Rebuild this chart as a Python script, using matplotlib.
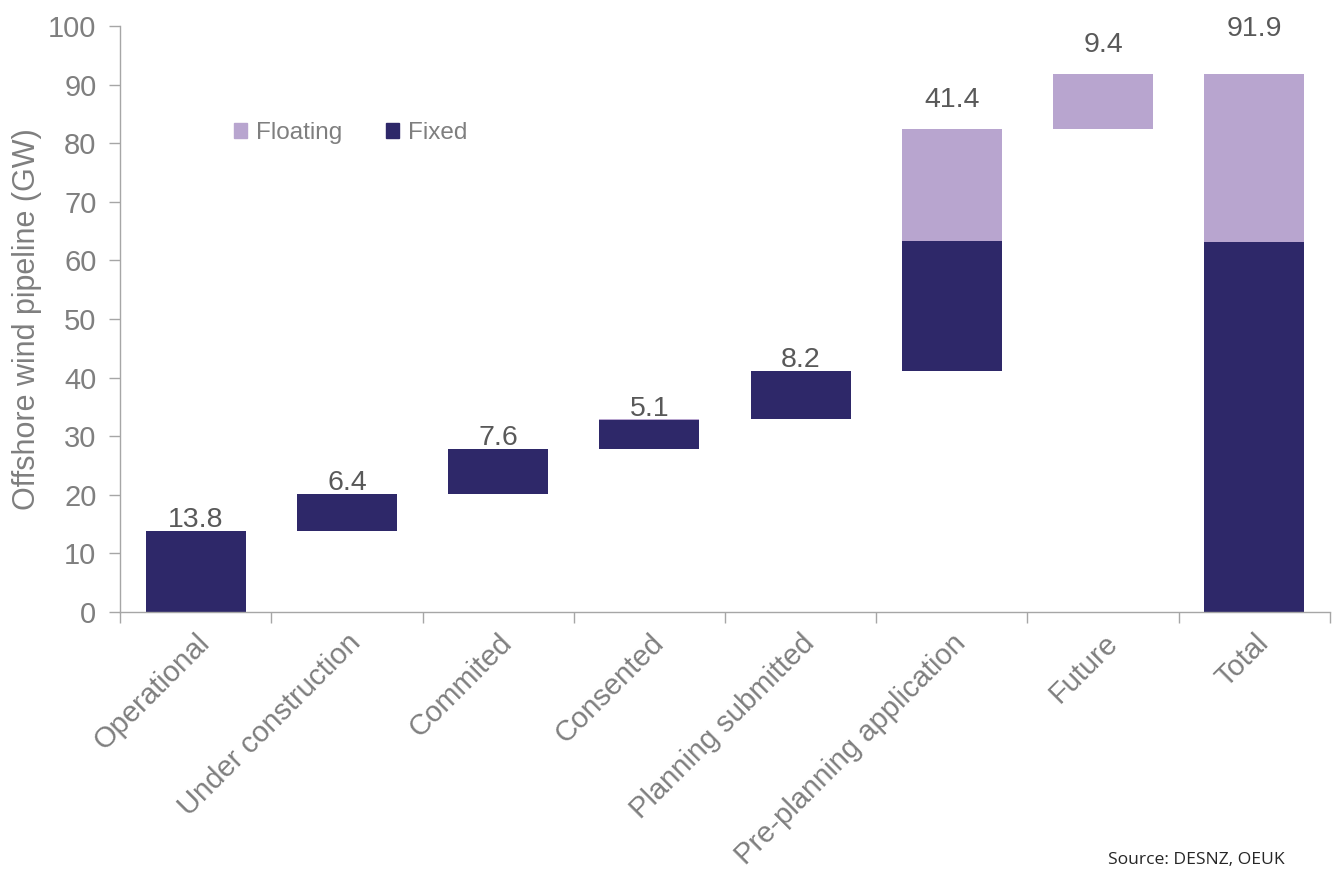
import numpy as np
import matplotlib
matplotlib.use("Agg")
from matplotlib import pyplot as plt
from matplotlib.patches import Patch

# pipeline stages, GW
stages = ['Operational', 'Under construction', 'Commited', 'Consented',
          'Planning submitted', 'Pre-planning application', 'Future', 'Total']
fixed = [13.8, 6.4, 7.6, 5.0, 8.2, 22.2, 0.0]
floating = [0.0, 0.0, 0.0, 0.1, 0.0, 19.2, 9.4]
labels = ['13.8', '6.4', '7.6', '5.1', '8.2', '41.4', '9.4', '91.9']

c_fixed = '#2E2869'
c_float = '#B8A5CF'
grey = '#7F7F7F'

plt.rcParams['font.family'] = ['Liberation Sans', 'DejaVu Sans']

fig = plt.figure(figsize=(13.38, 8.71), dpi=100)
ax = fig.add_axes([0.0897, 0.2974, 0.9043, 0.6727])

fixed = np.array(fixed)
floating = np.array(floating)
steps = fixed + floating
bases = np.concatenate([[0.0], np.cumsum(steps)[:-1]])

x = np.arange(len(stages))
w = 0.66
fx = np.append(fixed, fixed.sum())
fl = np.append(floating, floating.sum())
fb = np.append(bases, 0.0)

ax.bar(x, fx, w, bottom=fb, color=c_fixed, zorder=2)
ax.bar(x, fl, w, bottom=fb + fx, color=c_float, zorder=2)

# value labels; stacks with a floating part sit a little higher, the total higher still
tops = fb + fx + fl
for i, (xi, t, f, lab) in enumerate(zip(x, tops, fl, labels)):
    if i == len(stages) - 1:
        gap = 5.4
    elif f > 1:
        gap = 2.6
    else:
        gap = -0.4
    ax.text(xi, t + gap, lab, ha='center', va='bottom', fontsize=20.5, color='#595959')

ax.set_xlim(-0.5, len(stages) - 0.5)
ax.set_ylim(0, 100)
ax.set_yticks(np.arange(0, 101, 10))
ax.set_xticks(x)
ax.set_xticklabels(stages, rotation=45, ha='right', rotation_mode='anchor',
                   fontsize=21, color=grey)
ax.set_xticks(np.arange(-0.5, len(stages), 1.0), minor=True)
ax.tick_params(axis='x', which='major', length=0, pad=12)
ax.tick_params(axis='x', which='minor', length=8, color='#A6A6A6', width=1)
ax.tick_params(axis='y', length=8, color='#A6A6A6', width=1, labelsize=21,
               labelcolor=grey, pad=9)

for s in ['top', 'right']:
    ax.spines[s].set_visible(False)
for s in ['left', 'bottom']:
    ax.spines[s].set_color('#A6A6A6')
    ax.spines[s].set_linewidth(1)

ax.set_ylabel('Offshore wind pipeline (GW)', fontsize=22, color=grey, labelpad=4)

handles = [Patch(color=c_float, label='Floating'), Patch(color=c_fixed, label='Fixed')]
leg = ax.legend(handles=handles, ncol=2, frameon=False, fontsize=17.5,
                loc='center left', bbox_to_anchor=(0.084, 0.817), borderpad=0,
                handlelength=0.55, handleheight=0.55, handletextpad=0.35,
                columnspacing=1.8, labelcolor=grey)

fig.text(0.96, 0.004, 'Source: DESNZ, OEUK', ha='right', va='bottom',
         fontsize=12.6, color='#262626', family=['Open Sans', 'DejaVu Sans'])

fig.savefig('out.png', dpi=100)
